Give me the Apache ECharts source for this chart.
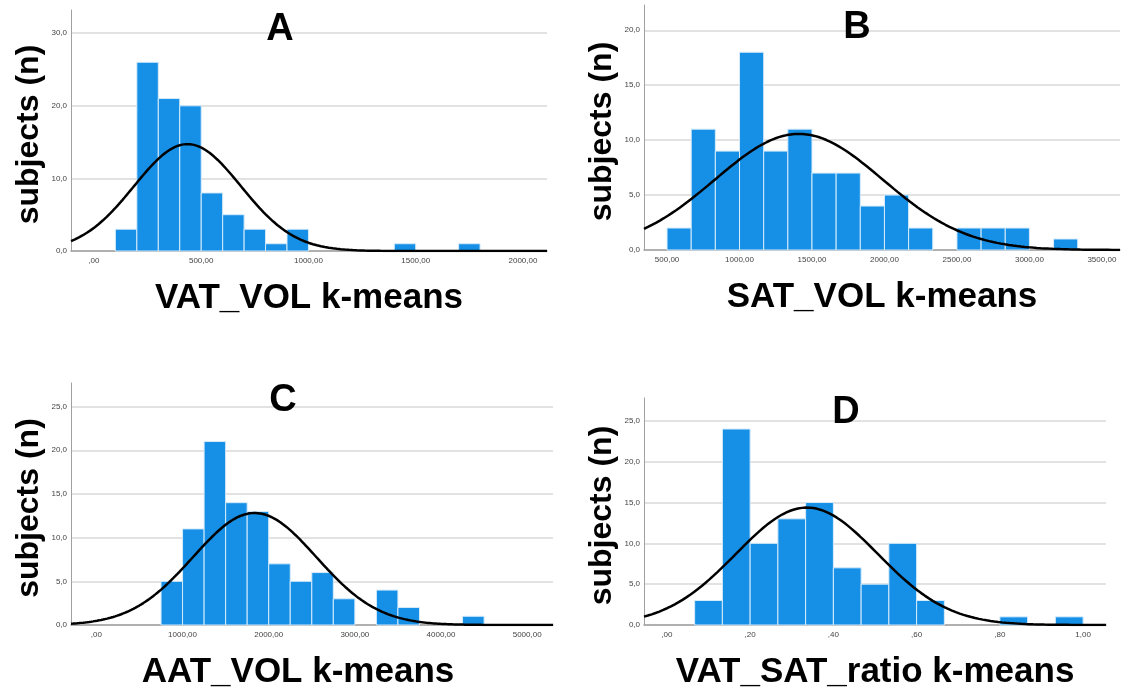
<!DOCTYPE html>
<html><head><meta charset="utf-8">
<script src="https://cdn.jsdelivr.net/npm/echarts@6/dist/echarts.min.js"></script>
<style>html,body{margin:0;padding:0;background:#fff}#c{width:1121px;height:691px}</style>
</head><body><div id="c"></div>
<script>
// ---- data (histogram bins) ----
const vatBinStart = 100, vatBinWidth = 100;
const vatCounts = [3, 26, 21, 20, 8, 5, 3, 1, 3, 0, 0, 0, 0, 1, 0, 0, 1];
const satBinStart = 500, satBinWidth = 500 / 3;
const satCounts = [2, 11, 9, 18, 9, 11, 7, 7, 4, 5, 2, 0, 2, 2, 2, 0, 1];
const aatBinStart = 750, aatBinWidth = 250;
const aatCounts = [5, 11, 21, 14, 13, 7, 5, 6, 3, 0, 4, 2, 0, 0, 1];
const ratioBinStart = 1 / 15, ratioBinWidth = 1 / 15;
const ratioCounts = [3, 24, 10, 13, 15, 7, 5, 10, 3, 0, 0, 1, 0, 1];

const vatXTicks = [0, 500, 1000, 1500, 2000];
const satXTicks = [500, 1000, 1500, 2000, 2500, 3000, 3500];
const aatXTicks = [0, 1000, 2000, 3000, 4000, 5000];
const ratioXTicks = [0, 0.2, 0.4, 0.6, 0.8, 1.0];
const vatYTicks = [0, 10, 20, 30];
const satYTicks = [0, 5, 10, 15, 20];
const aatYTicks = [0, 5, 10, 15, 20, 25];
const ratioYTicks = [0, 5, 10, 15, 20, 25];

const panelLetters = ['A', 'B', 'C', 'D'];
const xNames = ['VAT_VOL k-means', 'SAT_VOL k-means', 'AAT_VOL k-means', 'VAT_SAT_ratio k-means'];
const yName = 'subjects (n)';

// ---- helpers ----
function binsOf(start, width, counts) {
  const out = [];
  counts.forEach((c, i) => { if (c > 0) out.push([start + i * width, start + (i + 1) * width, c]); });
  return out;
}
// normal curve fitted to the plotted histogram (mean / SD from the bins)
function normalFit(start, width, counts, xmin, xmax) {
  let n = 0, s = 0;
  counts.forEach((c, i) => { const m = start + (i + 0.5) * width; n += c; s += c * m; });
  const mean = s / n;
  let ss = 0;
  counts.forEach((c, i) => { const m = start + (i + 0.5) * width; ss += c * (m - mean) * (m - mean); });
  const sd = Math.sqrt(ss / (n - 1));
  const pts = [];
  const steps = 240;
  for (let k = 0; k <= steps; k++) {
    const x = xmin + (xmax - xmin) * k / steps;
    const z = (x - mean) / sd;
    pts.push([x, n * width / (sd * Math.sqrt(2 * Math.PI)) * Math.exp(-0.5 * z * z)]);
  }
  return pts;
}
function fmtX(v) {
  let s = v.toFixed(2).replace('.', ',');
  if (s.startsWith('0,')) s = s.slice(1);
  return s;
}
function fmtY(v) { return v.toFixed(1).replace('.', ','); }

const BAR = '#1590e6';
function renderBar(params, api) {
  const p0 = api.coord([api.value(0), api.value(2)]);
  const p1 = api.coord([api.value(1), 0]);
  return {
    type: 'rect',
    shape: { x: p0[0], y: p0[1], width: p1[0] - p0[0], height: p1[1] - p0[1] },
    style: { fill: BAR, stroke: '#d6ebfb', lineWidth: 1 }
  };
}

const panels = [
  { start: vatBinStart, width: vatBinWidth, counts: vatCounts, xr: [-107, 2112], yr: [0, 33.2], xt: vatXTicks, yt: vatYTicks,
    grid: { left: 71, right: 574, top: 10, bottom: 440 }, namePad: [0, 0, 0, 0] },
  { start: satBinStart, width: satBinWidth, counts: satCounts, xr: [341, 3625], yr: [0, 22.3], xt: satXTicks, yt: satYTicks,
    grid: { left: 644, right: 1, top: 5, bottom: 441 }, namePad: [0, 0, 0, 0] },
  { start: aatBinStart, width: aatBinWidth, counts: aatCounts, xr: [-295, 5300], yr: [0, 27.7], xt: aatXTicks, yt: aatYTicks,
    grid: { left: 71, right: 568, top: 383, bottom: 65 }, namePad: [0, 28, 0, 0] },
  { start: ratioBinStart, width: ratioBinWidth, counts: ratioCounts, xr: [-0.055, 1.055], yr: [0, 27.8], xt: ratioXTicks, yt: ratioYTicks,
    grid: { left: 644, right: 15, top: 398, bottom: 62 }, namePad: [0, 0, 0, 0] }
];

const FONT = 'Liberation Sans, Arial, sans-serif';
const option = { animation: false, backgroundColor: '#fff', grid: [], xAxis: [], yAxis: [], series: [], graphic: [] };
const letterPos = [[280, 30], [857, 28], [283, 401], [846, 413]];

panels.forEach((p, i) => {
  option.grid.push(Object.assign({ containLabel: false }, p.grid));
  option.xAxis.push({
    type: 'value', gridIndex: i, min: p.xr[0], max: p.xr[1],
    name: xNames[i], nameLocation: 'middle', nameGap: 30,
    nameTextStyle: { fontFamily: FONT, fontWeight: 'bold', fontSize: 35, color: '#000', padding: p.namePad },
    axisLine: { show: true, onZero: false, lineStyle: { color: '#a0a0a0', width: 1.5 } },
    axisTick: { show: false, customValues: p.xt },
    axisLabel: { customValues: p.xt, formatter: fmtX, fontSize: 8, color: '#444', fontFamily: FONT, margin: 6 },
    splitLine: { show: false }
  });
  option.yAxis.push({
    type: 'value', gridIndex: i, min: p.yr[0], max: p.yr[1],
    name: yName, nameLocation: 'middle', nameGap: 26,
    nameTextStyle: { fontFamily: FONT, fontWeight: 'bold', fontSize: 32, color: '#000', padding: [0, 8, 0, 0] },
    axisLine: { show: true, onZero: false, lineStyle: { color: '#a0a0a0', width: 1 } },
    axisTick: { show: false, customValues: p.yt },
    axisLabel: { customValues: p.yt, formatter: fmtY, fontSize: 8, color: '#444', fontFamily: FONT, margin: 4 },
    splitLine: { show: true, lineStyle: { color: '#d9d9d9', width: 1.5 } }
  });
  option.series.push({
    type: 'custom', xAxisIndex: i, yAxisIndex: i, renderItem: renderBar,
    encode: { x: [0, 1], y: 2 }, data: binsOf(p.start, p.width, p.counts), z: 2
  });
  option.series.push({
    type: 'line', xAxisIndex: i, yAxisIndex: i, showSymbol: false, smooth: false,
    lineStyle: { color: '#000', width: 2.5 }, data: normalFit(p.start, p.width, p.counts, p.xr[0], p.xr[1]), z: 3
  });
  option.graphic.push({
    type: 'text', x: letterPos[i][0], y: letterPos[i][1],
    style: { text: panelLetters[i], font: 'bold 38px ' + FONT, fill: '#000', align: 'center', verticalAlign: 'middle' }, z: 10
  });
});

const chart = echarts.init(document.getElementById('c'), null, { renderer: 'canvas' });
chart.setOption(option);
</script></body></html>
